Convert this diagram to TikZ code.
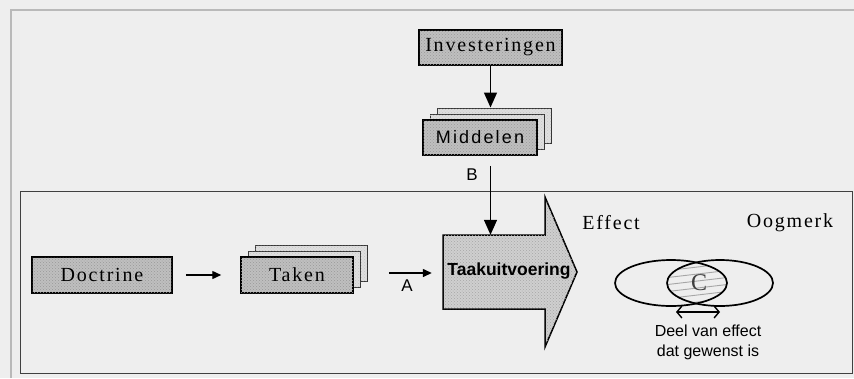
\documentclass[tikz,border=0pt]{standalone}
\usepackage{fontspec}
\setmainfont{Liberation Serif}
\setsansfont{Liberation Sans}
\newfontfamily\spacedserif[LetterSpace=9]{Liberation Serif}
\newfontfamily\spacedsans[LetterSpace=12]{Liberation Sans}
\usetikzlibrary{arrows.meta,patterns}
\begin{document}
\begin{tikzpicture}[x=1pt,y=-1pt,
  box/.style={draw=black, line width=1.5pt, fill=gray!50,
    postaction={pattern=crosshatch dots, pattern color=gray!80},
    minimum height=35pt, inner sep=0pt},
  backbox/.style={draw=black!80, line width=1pt, fill=gray!25,
    postaction={pattern=crosshatch dots, pattern color=gray!45},
    minimum height=35pt, inner sep=0pt},
  serifbig/.style={font=\spacedserif\fontsize{20}{20}\selectfont},
  sansbig/.style={font=\spacedsans\fontsize{18}{18}\selectfont},
  lbl/.style={font=\sffamily\fontsize{17}{17}\selectfont},
  bigarr/.style={-{Triangle[width=13pt,length=15pt]}, line width=1.4pt},
  smallarr/.style={-{Triangle[width=8pt,length=9pt]}, line width=1.4pt},
  bigshape/.style={draw=black, line width=1.5pt, fill=gray!38,
    postaction={pattern=crosshatch dots, pattern color=gray!70}},
  oval/.style={draw=black, line width=1.7pt},
  hatch/.style={gray!70, line width=0.9pt}
]
\useasboundingbox (0,0) rectangle (854,378);
\fill[gray!13] (0,0) rectangle (854,378);
% frames
\draw[gray!55, line width=2pt] (11,378) -- (11,10) -- (854,10);
\draw[black!75, line width=1pt] (20,191) rectangle (852,373);

% Investeringen
\node[box, minimum width=143pt, serifbig] (inv) at (490.5,47.5) {Investeringen};
% Middelen stack
\node[backbox, minimum width=114pt] (mid3) at (494,125.5) {};
\node[backbox, minimum width=114pt] (mid2) at (487,131.5) {};
\node[box, minimum width=114pt, sansbig] (mid) at (480,137.5) {Middelen};

% Doctrine
\node[box, minimum width=140pt, minimum height=36pt, serifbig] (doc) at (102,275) {Doctrine};
% Taken stack
\node[backbox, minimum width=112pt, minimum height=36pt] (taken3) at (311,263) {};
\node[backbox, minimum width=112pt, minimum height=36pt] (taken2) at (304,269) {};
\node[box, minimum width=112pt, minimum height=36pt, serifbig] (taken) at (297,275) {Taken};

% Taakuitvoering big arrow
\draw[bigshape] (443,235) -- (545,235) -- (545,197) -- (577,272) -- (545,347)
  -- (545,309) -- (443,309) -- cycle;
\node[inner sep=0pt, minimum width=102pt, minimum height=74pt] (taak) at (494,272) {};
\node[font=\sffamily\bfseries\fontsize{17.5}{17.5}\selectfont] (taaktxt) at (509,271) {Taakuitvoering};

% connectors
\draw[bigarr] (inv.south) -- (inv.south |- mid3.north);
\draw[bigarr, shorten <=10pt] (inv.south |- mid.south) -- (inv.south |- taak.north);
\node[lbl] (blab) at (472,175) {B};
\draw[smallarr, shorten <=13pt, shorten >=19pt] (doc.east) -- (taken.west);
\draw[smallarr] ([xshift=35pt,yshift=2pt]taken.east) -- ([xshift=-11pt,yshift=-1pt]taak.west);
\node[lbl] (alab) at (407,286) {A};

% ellipses with hatched intersection
\begin{scope}
  \clip (671,283) ellipse [x radius=56, y radius=23];
  \clip (720,283) ellipse [x radius=53, y radius=23];
  \foreach \k in {-5,...,6}
    \draw[hatch] (655,{283+7*\k+3}) -- (740,{283+7*\k-7});
\end{scope}
\draw[oval] (671,283) ellipse [x radius=56, y radius=23];
\draw[oval] (720,283) ellipse [x radius=53, y radius=23];
\node[font=\fontsize{24}{24}\selectfont, text=gray!50!black] (cc) at (699,283) {C};

\node[serifbig] (eff) at (611,223) {Effect};
\node[serifbig] (oog) at (790,223) {Oogmerk};

\coordinate (dl) at (676,312);
\coordinate (dr) at (720,312);
\draw[{Straight Barb[length=5pt,width=12pt]}-{Straight Barb[length=5pt,width=12pt]}, line width=1.4pt] (dl) -- (dr);
\node[font=\sffamily\fontsize{16}{20}\selectfont, align=center] (deel) at (708,342) {Deel van effect\\dat gewenst is};
\end{tikzpicture}
\end{document}
